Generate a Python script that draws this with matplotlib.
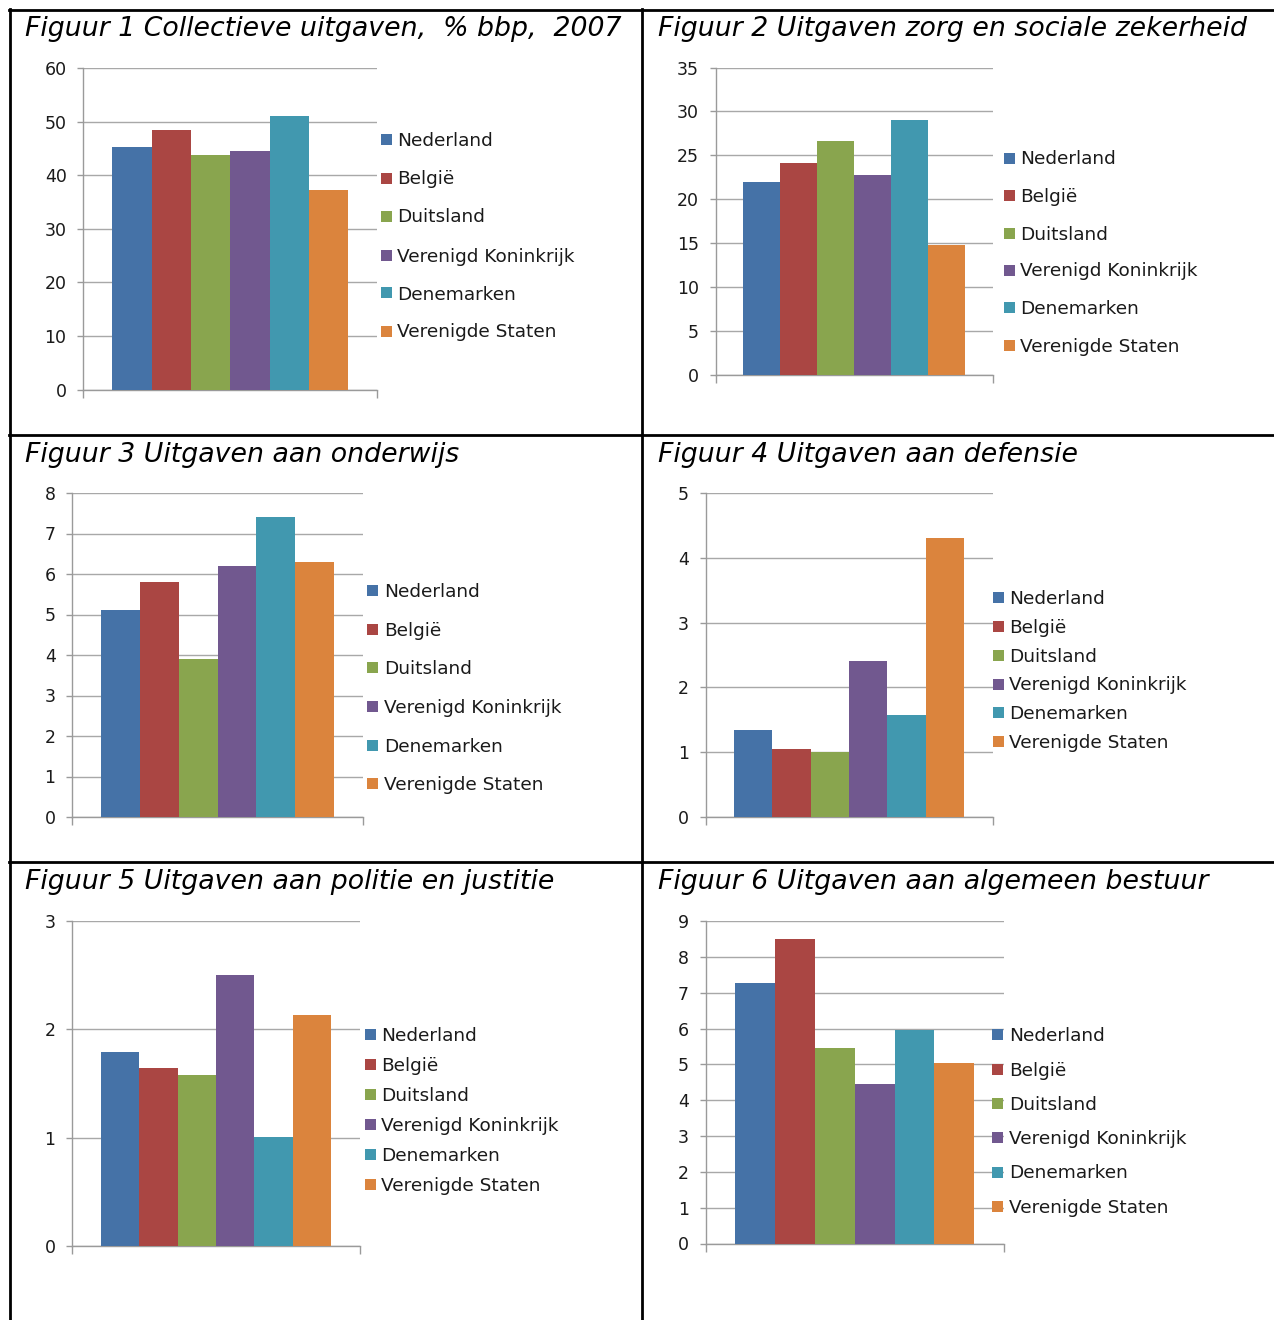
import numpy as np
import matplotlib.pyplot as plt
from matplotlib.patches import Rectangle
from matplotlib.lines import Line2D

W, H = 1274, 1320

countries = ["Nederland", "België", "Duitsland", "Verenigd Koninkrijk", "Denemarken", "Verenigde Staten"]
colors = ["#4572A7", "#AA4643", "#89A54E", "#71588F", "#4198AF", "#DB843D"]

titles = [
    "Figuur 1 Collectieve uitgaven,  % bbp,  2007",
    "Figuur 2 Uitgaven zorg en sociale zekerheid",
    "Figuur 3 Uitgaven aan onderwijs",
    "Figuur 4 Uitgaven aan defensie",
    "Figuur 5 Uitgaven aan politie en justitie",
    "Figuur 6 Uitgaven aan algemeen bestuur",
]

collectief = [45.3, 48.4, 43.8, 44.5, 51.0, 37.2]
zorg = [22.0, 24.1, 26.6, 22.8, 29.0, 14.8]
onderwijs = [5.1, 5.8, 3.9, 6.2, 7.4, 6.3]
defensie = [1.35, 1.05, 1.0, 2.4, 1.57, 4.31]
politie = [1.79, 1.64, 1.58, 2.5, 1.01, 2.13]
bestuur = [7.27, 8.5, 5.46, 4.45, 5.96, 5.04]

series = [collectief, zorg, onderwijs, defensie, politie, bestuur]
y_max = [60, 35, 8, 5, 3, 9]
y_step = [10, 5, 1, 1, 1, 1]

# layout in pixels: axes (left, top, right, bottom), title (x, baseline),
# legend (marker x, text x, row centres)
axes_px = [
    (83, 68, 377.5, 389.5),
    (715.5, 67.5, 992.5, 375),
    (72, 493, 363, 817),
    (705.5, 493, 992.5, 817),
    (72, 921, 360, 1246),
    (705.5, 921, 1004, 1243.5),
]
title_px = [(25, 36), (658, 36), (25, 462), (658, 462), (25, 889), (658, 889)]
legend_px = [
    (381, 397, [139, 178, 216, 255, 293, 331]),
    (1003.5, 1020, [158, 195, 233, 270, 307, 345]),
    (367, 384.5, [590.7, 629, 667, 706.7, 745, 783.3]),
    (992.6, 1009, [597.3, 626.7, 655.3, 684, 712.7, 741.7]),
    (364.5, 381, [1034.3, 1064.7, 1094.7, 1124.7, 1154.7, 1184.7]),
    (992, 1008.8, [1034.7, 1069, 1103.3, 1137.7, 1172, 1206.7]),
]


def fx(x):
    return x / W


def fy(y):
    return 1 - y / H


fig = plt.figure(figsize=(W / 100, H / 100), dpi=100)

grey = "#9A9A9A"
bar_w = 0.8 / len(countries)
pos = (np.arange(len(countries)) - (len(countries) - 1) / 2) * bar_w

for i, vals in enumerate(series):
    l, t, r, b = axes_px[i]
    ax = fig.add_axes([fx(l), fy(b), (r - l) / W, (b - t) / H])
    ax.bar(pos, vals, width=bar_w, color=colors, zorder=3)
    ax.set_xlim(-0.5, 0.5)
    ax.set_ylim(0, y_max[i])
    ax.set_yticks(np.arange(0, y_max[i] + y_step[i], y_step[i]))
    ax.set_xticks([-0.5, 0.5])
    ax.set_xticklabels([])
    ax.yaxis.grid(True, color="#A8A8A8", lw=1)
    ax.set_axisbelow(True)
    for s in ["top", "right"]:
        ax.spines[s].set_visible(False)
    for s in ["left", "bottom"]:
        ax.spines[s].set_color(grey)
        ax.spines[s].set_linewidth(1)
    ax.tick_params(axis="y", direction="out", length=4.3, width=1, color=grey,
                   pad=7.5, labelsize=12.5, labelcolor="#1a1a1a")
    ax.tick_params(axis="x", direction="out", length=5.8, width=1, color=grey)

    tx, ty = title_px[i]
    fig.text(fx(tx), fy(ty), titles[i], fontsize=19.3, style="italic",
             va="baseline", ha="left", color="black")

    mx, lx, rows = legend_px[i]
    for name, col, cy in zip(countries, colors, rows):
        fig.add_artist(Rectangle((fx(mx), fy(cy + 5.5)), 11 / W, 11 / H,
                                 transform=fig.transFigure, color=col, lw=0))
        fig.text(fx(lx), fy(cy + 6.5), name, fontsize=13.3, va="baseline",
                 ha="left", color="#1a1a1a")

# table borders
lw = 2.0
fig.add_artist(Line2D([fx(9), 1], [fy(10)] * 2, color="black", lw=lw))
fig.add_artist(Line2D([fx(9), 1], [fy(435)] * 2, color="black", lw=lw))
fig.add_artist(Line2D([fx(9), 1], [fy(862)] * 2, color="black", lw=lw))
fig.add_artist(Line2D([fx(9.5)] * 2, [fy(9), 0], color="black", lw=lw))
fig.add_artist(Line2D([fx(642)] * 2, [fy(9), 0], color="black", lw=lw))

fig.savefig("out.png", dpi=100)
